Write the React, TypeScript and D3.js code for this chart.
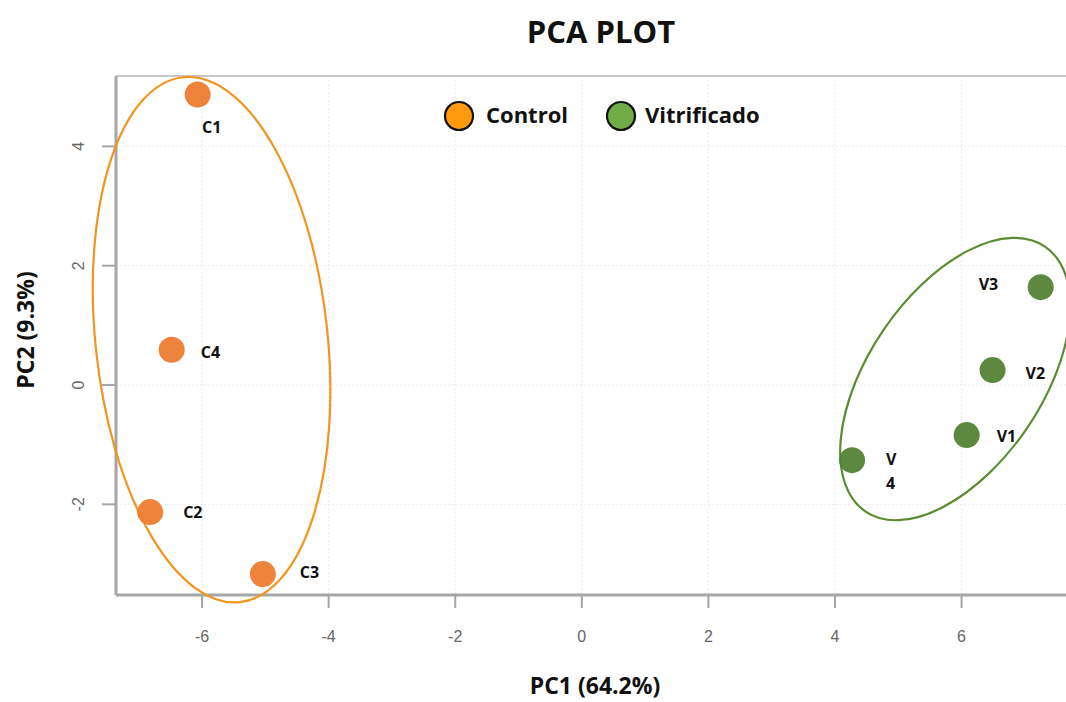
import React from "react";
import * as d3 from "d3";

const sampleLabels = ["C1", "C2", "C3", "C4", "V1", "V2", "V3", "V4"];
const sampleGroups = ["Control", "Control", "Control", "Control", "Vitrificado", "Vitrificado", "Vitrificado", "Vitrificado"];
const pc1Values = [-6.07, -6.82, -5.04, -6.48, 6.08, 6.49, 7.25, 4.27];
const pc2Values = [4.87, -2.13, -3.17, 0.59, -0.84, 0.25, 1.64, -1.26];
const xTicks = [-6, -4, -2, 0, 2, 4, 6];
const yTicks = [-2, 0, 2, 4];
const groupNames = ["Control", "Vitrificado"];
const ellipseCentersX = [-5.85, 5.9];
const ellipseCentersY = [0.76, 0.1];

const W = 1066;
const H = 702;
const plotLeft = 116;
const plotTop = 76;
const plotBottom = 595;

const x = d3.scaleLinear().domain([-7.36, 7.65]).range([plotLeft, W]);
const y = d3.scaleLinear().domain([-3.52, 5.18]).range([plotBottom, plotTop]);

const pointColor: Record<string, string> = { Control: "#ED7D31", Vitrificado: "#548235" };
const legendColor: Record<string, string> = { Control: "#FF9A0F", Vitrificado: "#70AD47" };
const ellipseColor: Record<string, string> = { Control: "#F0961E", Vitrificado: "#5B8C32" };
const ellipseShape: Record<string, { rx: number; ry: number; rot: number }> = {
  Control: { rx: 116, ry: 264, rot: -6.2 },
  Vitrificado: { rx: 160, ry: 87, rot: -55.9 },
};
// label offsets (px) relative to point
const labelOffsets: Record<string, [number, number, string]> = {
  C1: [14, 39, "middle"],
  C2: [33, 6, "start"],
  C3: [37, 4, "start"],
  C4: [29, 8, "start"],
  V1: [30, 7, "start"],
  V2: [33, 9, "start"],
  V3: [-62, 3, "start"],
};

const font = "'Open Sans', Lato, sans-serif";

export default function App() {
  const pts = pc1Values.map((v, i) => ({
    label: sampleLabels[i],
    group: sampleGroups[i],
    px: x(v),
    py: y(pc2Values[i]),
  }));
  return (
    <svg
      width={W}
      height={H}
      style={{ position: "absolute", left: 0, top: 0, display: "block", background: "#fff" }}
    >
      <rect x={0} y={0} width={W} height={H} fill="#fff" />
      {/* grid */}
      {xTicks.map((t) => (
        <line key={"gx" + t} x1={x(t)} x2={x(t)} y1={plotTop} y2={plotBottom} stroke="#ececec" strokeWidth={1} strokeDasharray="2,2" />
      ))}
      {yTicks.map((t) => (
        <line key={"gy" + t} x1={plotLeft} x2={W} y1={y(t)} y2={y(t)} stroke="#ececec" strokeWidth={1} strokeDasharray="2,2" />
      ))}
      {/* frame */}
      <line x1={plotLeft} x2={W} y1={plotTop} y2={plotTop} stroke="#c8c8c8" strokeWidth={2} />
      <line x1={plotLeft} x2={W} y1={plotBottom} y2={plotBottom} stroke="#a6a6a6" strokeWidth={3} />
      <line x1={plotLeft} x2={plotLeft} y1={plotTop} y2={plotBottom} stroke="#a6a6a6" strokeWidth={3} />
      {/* ticks */}
      {xTicks.map((t) => (
        <g key={"tx" + t}>
          <line x1={x(t)} x2={x(t)} y1={plotBottom} y2={plotBottom + 13} stroke="#a6a6a6" strokeWidth={2} />
          <text x={x(t)} y={642} textAnchor="middle" fontFamily="'Liberation Sans', Arial, sans-serif" fontSize={16} fill="#666">
            {t}
          </text>
        </g>
      ))}
      {yTicks.map((t) => (
        <g key={"ty" + t}>
          <line x1={plotLeft - 14} x2={plotLeft} y1={y(t)} y2={y(t)} stroke="#a6a6a6" strokeWidth={2} />
          <text
            transform={`translate(84,${y(t)}) rotate(-90)`}
            textAnchor="middle"
            fontFamily="'Liberation Sans', Arial, sans-serif"
            fontSize={16}
            fill="#666"
          >
            {t}
          </text>
        </g>
      ))}
      {/* ellipses */}
      {groupNames.map((g, i) => {
        const s = ellipseShape[g];
        return (
          <ellipse
            key={"el" + g}
            cx={0}
            cy={0}
            rx={s.rx}
            ry={s.ry}
            transform={`translate(${x(ellipseCentersX[i])},${y(ellipseCentersY[i])}) rotate(${s.rot})`}
            fill="none"
            stroke={ellipseColor[g]}
            strokeWidth={2.2}
          />
        );
      })}
      {/* points */}
      {pts.map((p) => (
        <circle key={"p" + p.label} cx={p.px} cy={p.py} r={13} fill={pointColor[p.group]} opacity={0.95} />
      ))}
      {/* labels */}
      {pts.map((p) => {
        if (p.label === "V4") {
          return (
            <text key={"l" + p.label} x={p.px + 34} y={p.py + 5} fontFamily={font} fontWeight="bold" fontSize={16} fill="#111">
              <tspan x={p.px + 34}>{p.label[0]}</tspan>
              <tspan x={p.px + 34} dy={24}>{p.label.slice(1)}</tspan>
            </text>
          );
        }
        const o = labelOffsets[p.label];
        return (
          <text
            key={"l" + p.label}
            x={p.px + o[0]}
            y={p.py + o[1]}
            textAnchor={o[2] as any}
            fontFamily={font}
            fontWeight="bold"
            fontSize={16}
            fill="#111"
          >
            {p.label}
          </text>
        );
      })}
      {/* legend */}
      <circle cx={459} cy={116} r={14} fill={legendColor.Control} stroke="#111" strokeWidth={2.2} />
      <text x={486} y={123} fontFamily={font} fontWeight="bold" fontSize={22} fill="#111">Control</text>
      <circle cx={621} cy={116} r={14} fill={legendColor.Vitrificado} stroke="#111" strokeWidth={2.2} />
      <text x={645} y={123} fontFamily={font} fontWeight="bold" fontSize={22} fill="#111">Vitrificado</text>
      {/* titles */}
      <text x={601} y={43} textAnchor="middle" fontFamily={font} fontWeight="bold" fontSize={31} fill="#111">PCA PLOT</text>
      <text x={595} y={694} textAnchor="middle" fontFamily={font} fontWeight="bold" fontSize={23} fill="#111">PC1 (64.2%)</text>
      <text
        transform={`translate(34,${330}) rotate(-90)`}
        textAnchor="middle"
        fontFamily={font}
        fontWeight="bold"
        fontSize={23}
        fill="#111"
      >
        PC2 (9.3%)
      </text>
    </svg>
  );
}
